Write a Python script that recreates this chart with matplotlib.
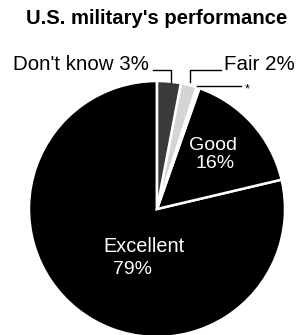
import matplotlib
matplotlib.use("Agg")
import matplotlib.pyplot as plt

categories = ["Excellent", "Good", "*", "Fair", "Don't know"]
values = [79, 16, 0.4, 2, 3]
colors = ["#000000", "#000000", "#ffffff", "#d4d4d4", "#3a3a3a"]

W, H = 302, 335
fig = plt.figure(figsize=(W / 100, H / 100), dpi=100)
ax = fig.add_axes([0, 0, 1, 1])

def Y(y):
    return H - y

cx, cy, r = 157, 209, 128
ax.pie(values, colors=colors, startangle=90, counterclock=True,
       center=(cx, Y(cy)), radius=r, frame=True,
       wedgeprops=dict(edgecolor="white", linewidth=1.8))
ax.set_xlim(0, W)
ax.set_ylim(0, H)
ax.set_aspect("equal")
ax.axis("off")

font = "Liberation Sans"
ax.text(157, Y(18), "U.S. military's performance", ha="center", va="center",
        fontsize=14.6, fontweight="bold", family=font)
ax.text(149, Y(65), "Don't know 3%", ha="right", va="center", fontsize=14.8, family=font)
ax.text(224, Y(65), "Fair 2%", ha="left", va="center", fontsize=14.8, family=font)
ax.text(245, Y(89), "*", ha="left", va="center", fontsize=9, family=font)
ax.text(213, Y(146), "Good", ha="center", va="center", fontsize=14, color="white", family=font)
ax.text(215, Y(164), "16%", ha="center", va="center", fontsize=14, color="white", family=font)
ax.text(144, Y(247), "Excellent", ha="center", va="center", fontsize=14.3, color="white", family=font)
ax.text(132, Y(270), "79%", ha="center", va="center", fontsize=14, color="white",
        family=font, fontweight="light")

lk = dict(color="black", linewidth=1)
ax.plot([153, 171, 171], [Y(70), Y(70), Y(82)], **lk)
ax.plot([190, 190, 221], [Y(82), Y(70), Y(70)], **lk)
ax.plot([197, 241], [Y(86), Y(86)], **lk)

fig.savefig("out.png", dpi=100)
